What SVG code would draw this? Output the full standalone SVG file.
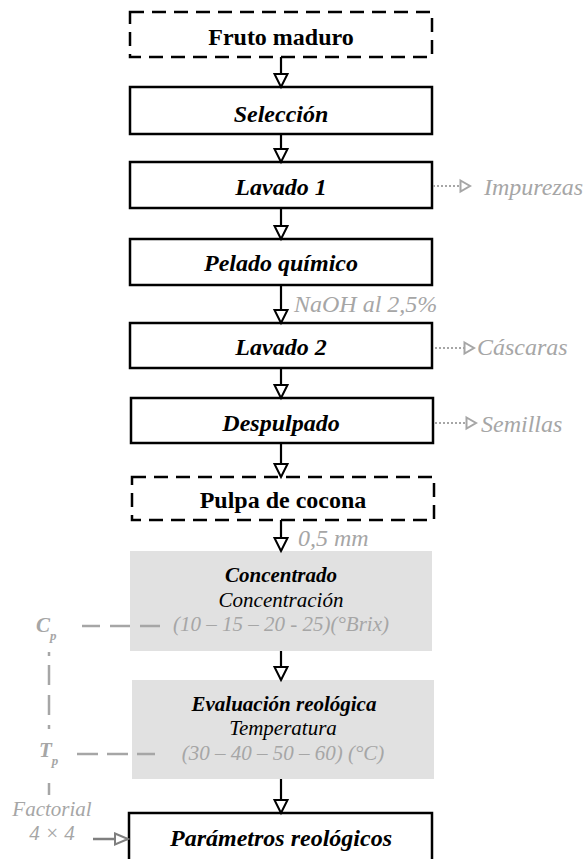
<svg xmlns="http://www.w3.org/2000/svg" width="587" height="859" viewBox="0 0 587 859">
<style>
text{font-family:"Liberation Serif","Times New Roman",serif;font-size:24px}
.s{font-size:21px}
.box{fill:#fff;stroke:#000;stroke-width:2.5}
.dash{fill:#fff;stroke:#000;stroke-width:2.5;stroke-dasharray:14 8}
.grey{fill:#e1e1e1;stroke:none}
.t{text-anchor:middle}
.bi{font-weight:bold;font-style:italic;fill:#000}
.b{font-weight:bold;fill:#000}
.i{font-style:italic;fill:#000}
.g{font-style:italic;fill:#a6a6a6}
.arr{stroke:#000;stroke-width:2.2;fill:none;marker-end:url(#ah)}
.dot{stroke:#a6a6a6;stroke-width:2;stroke-dasharray:2 2;fill:none;marker-end:url(#gh)}
.gd{stroke:#a6a6a6;stroke-width:2.5;fill:none}
.fa{stroke:#7f7f7f;stroke-width:2.5;fill:none;marker-end:url(#fh)}
</style>
<defs>
<marker id="ah" markerUnits="userSpaceOnUse" markerWidth="18" markerHeight="18" viewBox="0 0 18 18" refX="15" refY="9" orient="auto">
<path d="M2,2.5 L15,9 L2,15.5 Z" fill="#fff" stroke="#000" stroke-width="2"/>
</marker>
<marker id="gh" markerUnits="userSpaceOnUse" markerWidth="14" markerHeight="16" viewBox="0 0 14 16" refX="11" refY="8" orient="auto">
<path d="M1.5,2.5 L11,8 L1.5,13.5 Z" fill="#fff" stroke="#a6a6a6" stroke-width="2"/>
</marker>
<marker id="fh" markerUnits="userSpaceOnUse" markerWidth="18" markerHeight="16" viewBox="0 0 18 16" refX="15" refY="8" orient="auto">
<path d="M2,2.5 L15,8 L2,13.5 Z" fill="#fff" stroke="#7f7f7f" stroke-width="2"/>
</marker>
</defs>

<g id="n-fruto">
<rect class="dash" x="130" y="12" width="302" height="45"/>
<text class="t b" x="281" y="45">Fruto maduro</text>
</g>
<g id="n-seleccion">
<rect class="box" x="130" y="87" width="302" height="47"/>
<text class="t bi" x="281" y="122">Selección</text>
</g>
<g id="n-lavado1">
<rect class="box" x="130" y="162" width="302" height="46"/>
<text class="t bi" x="281" y="195">Lavado 1</text>
</g>
<g id="n-pelado">
<rect class="box" x="130" y="239" width="302" height="46"/>
<text class="t bi" x="281" y="271">Pelado químico</text>
</g>
<g id="n-lavado2">
<rect class="box" x="130" y="323" width="302" height="45"/>
<text class="t bi" x="281" y="355">Lavado 2</text>
</g>
<g id="n-despulpado">
<rect class="box" x="131" y="398" width="302" height="45"/>
<text class="t bi" x="281" y="431">Despulpado</text>
</g>
<g id="n-pulpa">
<rect class="dash" x="132" y="477" width="302" height="43"/>
<text class="t b" x="283" y="508">Pulpa de cocona</text>
</g>
<g id="n-concentrado">
<rect class="grey" x="130" y="551" width="302" height="100"/>
<text class="t bi s" x="281" y="582">Concentrado</text>
<text class="t i s" x="281" y="607">Concentración</text>
<text class="t g s" x="281" y="631">(10 – 15 – 20 - 25)(°Brix)</text>
</g>
<g id="n-evaluacion">
<rect class="grey" x="132" y="680" width="302" height="99"/>
<text class="t bi s" x="284" y="711">Evaluación reológica</text>
<text class="t i s" x="283" y="735">Temperatura</text>
<text class="t g s" x="283" y="760">(30 – 40 – 50 – 60) (°C)</text>
</g>
<g id="n-parametros">
<rect class="box" x="129" y="813" width="303" height="60"/>
<text class="t bi" x="281" y="846">Parámetros reológicos</text>
</g>

<g id="connectors">
<line class="arr" x1="281" y1="57" x2="281" y2="87"/>
<line class="arr" x1="281" y1="134" x2="281" y2="162"/>
<line class="arr" x1="281" y1="208" x2="281" y2="239"/>
<line class="arr" x1="281" y1="285" x2="281" y2="323"/>
<line class="arr" x1="281" y1="368" x2="281" y2="398"/>
<line class="arr" x1="281" y1="443" x2="281" y2="477"/>
<line class="arr" x1="281" y1="520" x2="281" y2="551"/>
<line class="arr" x1="281" y1="651" x2="281" y2="680"/>
<line class="arr" x1="281" y1="779" x2="281" y2="813"/>
<line class="dot" x1="433" y1="186" x2="470" y2="186"/>
<line class="dot" x1="435" y1="348" x2="474" y2="348"/>
<line class="dot" x1="435" y1="423" x2="476" y2="423"/>
<path class="gd" d="M82,626 H100 M110,626 H130 M140,626 H160"/>
<path class="gd" d="M77,754 H98 M107,754 H128 M137,754 H155"/>
<path class="gd" d="M49,652 V656 M49,665 V685 M49,695 V715 M49,725 V729 M49,783 V795"/>
<line class="fa" x1="93" y1="839" x2="128" y2="839"/>
</g>

<g id="labels">
<text class="g" x="484" y="195">Impurezas</text>
<text class="g" x="477" y="355">Cáscaras</text>
<text class="g" x="481" y="432">Semillas</text>
<text class="g" x="294" y="312">NaOH al 2,5%</text>
<text class="g" x="298" y="546">0,5 mm</text>
<text class="g" x="36" y="632" font-weight="bold" style="font-size:21px">C<tspan style="font-size:13px" dy="8">p</tspan></text>
<text class="g" x="39" y="757" font-weight="bold" style="font-size:21px">T<tspan style="font-size:13px" dy="8">p</tspan></text>
<text class="t g s" x="52" y="816">Factorial</text>
<text class="t g s" x="52" y="840">4 × 4</text>
</g>
</svg>
